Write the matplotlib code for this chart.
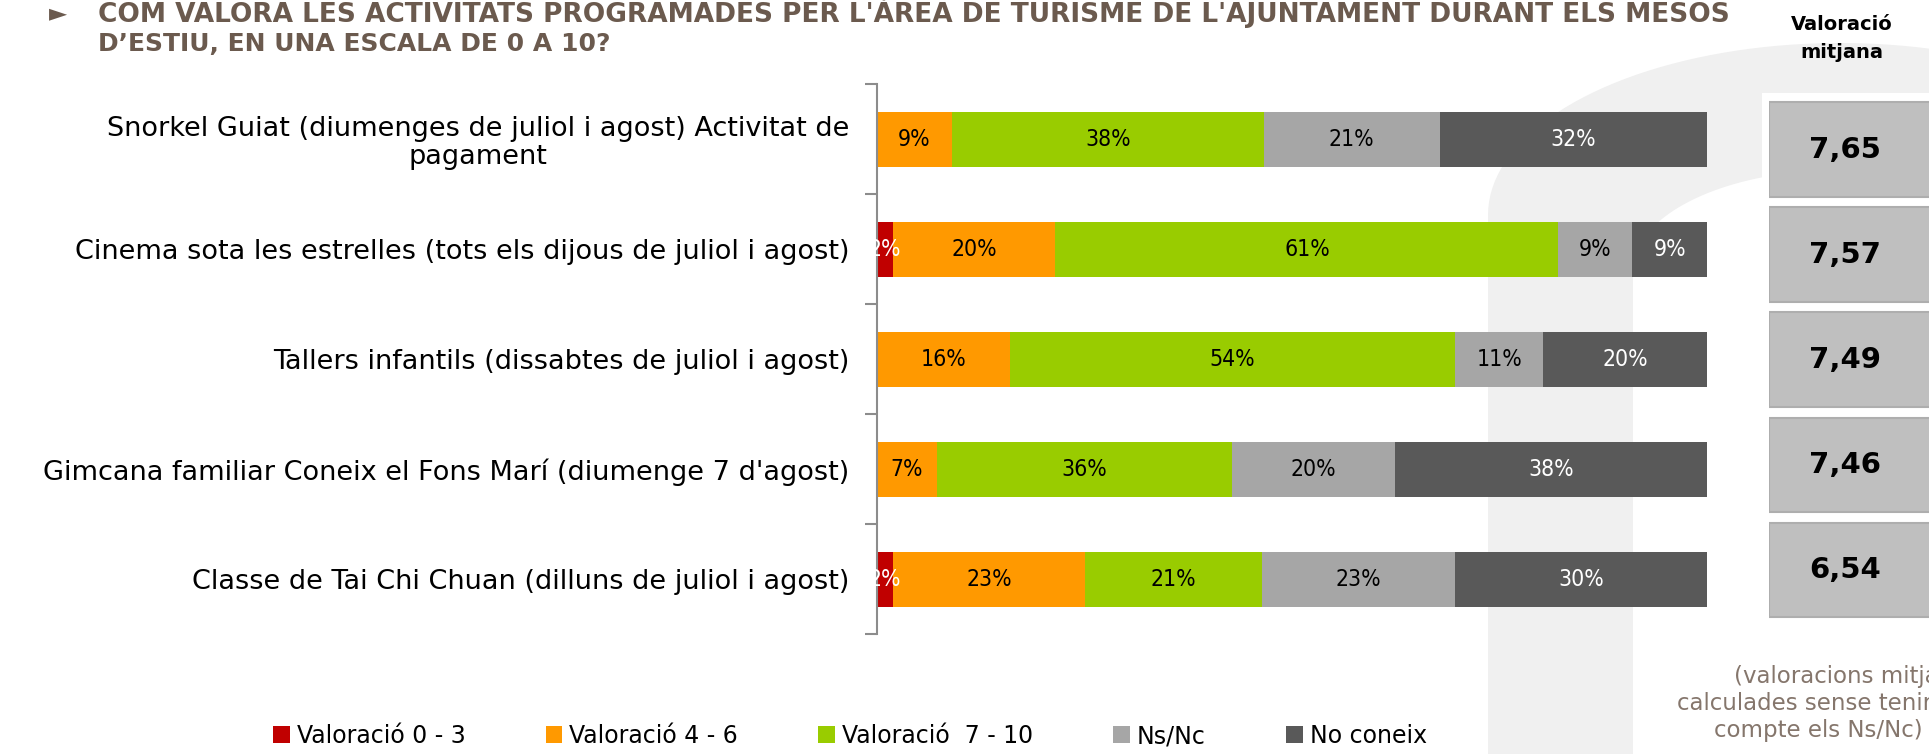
import matplotlib
matplotlib.use("Agg")
import matplotlib.pyplot as plt
from matplotlib.patches import Polygon, Rectangle
import numpy as np

# ---------------- data ----------------
categories = [
    "Snorkel Guiat (diumenges de juliol i agost) Activitat de\npagament",
    "Cinema sota les estrelles (tots els dijous de juliol i agost)",
    "Tallers infantils (dissabtes de juliol i agost)",
    "Gimcana familiar Coneix el Fons Marí (diumenge 7 d'agost)",
    "Classe de Tai Chi Chuan (dilluns de juliol i agost)",
]
series_names = ["Valoració 0 - 3", "Valoració 4 - 6", "Valoració  7 - 10", "Ns/Nc", "No coneix"]
val_0_3 = [0.0, 1.9, 0.0, 0.0, 1.9]
val_4_6 = [9.0, 19.6, 16.0, 7.2, 23.2]
val_7_10 = [37.6, 60.6, 53.6, 35.6, 21.3]
ns_nc = [21.2, 8.9, 10.7, 19.6, 23.2]
no_coneix = [32.2, 9.0, 19.7, 37.6, 30.4]
mean_scores = ["7,65", "7,57", "7,49", "7,46", "6,54"]

colors = ["#C00000", "#FF9900", "#99CC00", "#A6A6A6", "#595959"]
text_colors = ["white", "black", "black", "black", "white"]

W, H = 1929, 754
fig = plt.figure(figsize=(W / 100, H / 100), dpi=100)
fig.patch.set_facecolor("white")

# ---------------- background watermark (decorative) ----------------
bg = fig.add_axes([0, 0, 1, 1], zorder=-5)
bg.set_xlim(0, W)
bg.set_ylim(H, 0)
bg.axis("off")
wm = "#F0F0F0"
t_out = np.linspace(np.pi, 0, 80)
t_in = np.linspace(0, np.pi, 80)
cx, cy, a_out, b_out = 1840, 215, 352, 172
cy_in, a_in, b_in = 270, 207, 100
pts = [(cx - a_out, H + 10)]
pts += [(cx + a_out * np.cos(t), cy - b_out * np.sin(t)) for t in t_out]
pts += [(cx + a_out, H + 10), (cx + a_in, H + 10)]
pts += [(cx + a_in * np.cos(t), cy_in - b_in * np.sin(t)) for t in t_in]
pts += [(cx - a_in, H + 10)]
bg.add_patch(Polygon(pts, closed=True, facecolor=wm, edgecolor="none"))
bg.add_patch(Rectangle((1762, 93), 180, 540, facecolor="white", edgecolor="none"))

# ---------------- main chart ----------------
left = 877 / W
right = 1707 / W
top = 1 - 84 / H
bottom = 1 - 634 / H
ax = fig.add_axes([left, bottom, right - left, top - bottom])
ax.set_facecolor("none")

series = [val_0_3, val_4_6, val_7_10, ns_nc, no_coneix]
y = np.arange(len(categories))
cum = np.zeros(len(categories))
handles = []
for vals, col, tcol, name in zip(series, colors, text_colors, series_names):
    vals = np.array(vals)
    bars = ax.barh(y, vals, left=cum, height=0.5, color=col, label=name, zorder=2)
    labels = [f"{v:.0f}%" if v > 0 else "" for v in vals]
    ax.bar_label(bars, labels=labels, label_type="center", color=tcol,
                 fontsize=16.5, fontfamily="DejaVu Sans", fontstretch="condensed")
    handles.append(bars)
    cum += vals

ax.set_xlim(0, 100)
ax.set_ylim(len(categories) - 0.5, -0.5)
ax.set_yticks(y)
ax.set_yticklabels(categories, fontsize=19.5, fontfamily="DejaVu Sans")
for lbl in ax.get_yticklabels():
    lbl.set_multialignment("center")
    lbl.set_linespacing(1.1)
ax.set_yticks(np.arange(-0.5, len(categories)), minor=True)
ax.tick_params(axis="y", which="major", length=0, pad=20)
ax.tick_params(axis="y", which="minor", length=9, color="#8C8C8C", width=1.5)
ax.set_xticks([])
for s in ["top", "right", "bottom"]:
    ax.spines[s].set_visible(False)
ax.spines["left"].set_color("#8C8C8C")
ax.spines["left"].set_linewidth(1.5)

# ---------------- mean score boxes ----------------
bx_left = 1769 / W
bx_top = 1 - 97 / H
bx_bottom = 1 - 622.5 / H
ax2 = fig.add_axes([bx_left, bx_bottom, 1 - bx_left, bx_top - bx_bottom])
ax2.set_xlim(0, 1)
ax2.set_ylim(len(mean_scores) - 0.5, -0.5)
ax2.axis("off")
yb = np.arange(len(mean_scores))
ax2.barh(yb, [1.2] * len(mean_scores), left=0, height=0.9, color="#BFBFBF",
         edgecolor="#AEAEAE", linewidth=1.5)
for yi, s in zip(yb, mean_scores):
    ax2.text(0.475, yi, s, ha="center", va="center", fontsize=21, fontweight="bold",
             color="black", fontfamily="DejaVu Sans")

fig.text(1842 / W, 1 - 24 / H, "Valoració", ha="center", va="center", fontsize=14,
         fontweight="bold", color="black")
fig.text(1842 / W, 1 - 53 / H, "mitjana", ha="center", va="center", fontsize=14,
         fontweight="bold", color="black")

# ---------------- title ----------------
title_col = "#6B5A4E"
fig.text(49 / W, 1 - 20 / H, "►", ha="left", va="baseline", fontsize=17, color=title_col)
fig.text(98 / W, 1 - 22 / H,
         "COM VALORA LES ACTIVITATS PROGRAMADES PER L'ÀREA DE TURISME DE L'AJUNTAMENT DURANT ELS MESOS",
         ha="left", va="baseline", fontsize=19, fontweight="bold", color=title_col)
fig.text(98 / W, 1 - 51 / H, "D’ESTIU, EN UNA ESCALA DE 0 A 10?",
         ha="left", va="baseline", fontsize=18, fontweight="bold", color=title_col)

# ---------------- note ----------------
note_col = "#85766C"
fig.text(1734 / W, 1 - 677 / H, "(valoracions mitjanes", ha="left", va="center",
         fontsize=16.5, color=note_col)
fig.text(1677 / W, 1 - 704 / H, "calculades sense tenir en", ha="left", va="center",
         fontsize=16.5, color=note_col)
fig.text(1714 / W, 1 - 731 / H, "compte els Ns/Nc)", ha="left", va="center",
         fontsize=16.5, color=note_col)

# ---------------- legend ----------------
fig.legend(handles=handles, labels=series_names, loc="center", ncol=5,
           bbox_to_anchor=(850 / W, 1 - 736 / H), frameon=False, fontsize=17,
           handlelength=0.7, handleheight=0.7, handletextpad=0.3, columnspacing=3.4)

fig.savefig("out.png", dpi=100, facecolor="white")
